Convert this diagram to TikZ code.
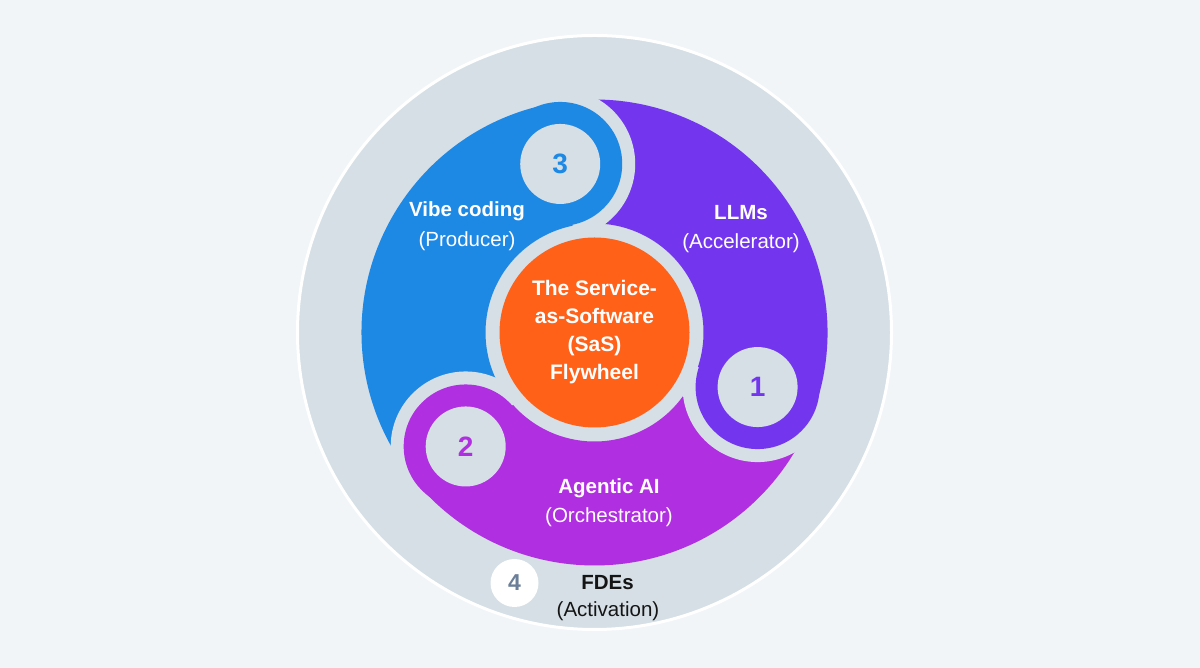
\documentclass[tikz,border=0pt]{standalone}
\usepackage{fontspec}
\setmainfont{Liberation Sans}
\usetikzlibrary{calc}
\definecolor{pagebg}{HTML}{F1F5F8}
\definecolor{wheelgray}{HTML}{D5DFE5}
\definecolor{vibe}{HTML}{1E88E5}
\definecolor{llm}{HTML}{7336EE}
\definecolor{agent}{HTML}{B02FE0}
\definecolor{hub}{HTML}{FF6119}
\definecolor{fde}{HTML}{6B7F99}
\definecolor{ink}{HTML}{151515}

\begin{document}
\begin{tikzpicture}[
  x=1pt,y=1pt,
  numdisk/.style={circle,fill=wheelgray,minimum size=80pt,inner sep=0pt,font=\fontsize{28}{28}\selectfont\bfseries},
  head/.style={anchor=base,text=white,font=\fontsize{20.5}{24}\selectfont\bfseries},
  sub/.style={anchor=base,text=white,font=\fontsize{20.5}{24}\selectfont},
  cut/.style={fill=wheelgray},
]
\fill[pagebg] (0,0) rectangle (1200,668);
\coordinate (C) at (594.5,335.5);
\node[circle,fill=wheelgray,draw=white,line width=3pt,minimum size=594pt,inner sep=0pt] (rim) at (C) {};

% the three bands, each from its own bulb to the next one
\fill[vibe] ($(C)+(101.5:233)$) arc[start angle=101.5,end angle=221.5,radius=233]
  -- ($(C)+(221.5:109)$) arc[start angle=221.5,end angle=101.5,radius=109] -- cycle;
\fill[agent] ($(C)+(221.5:233)$) arc[start angle=221.5,end angle=341.5,radius=233]
  -- ($(C)+(341.5:109)$) arc[start angle=341.5,end angle=221.5,radius=109] -- cycle;
\fill[llm] ($(C)+(341.5:233)$) arc[start angle=341.5,end angle=461.5,radius=233]
  -- ($(C)+(461.5:109)$) arc[start angle=461.5,end angle=341.5,radius=109] -- cycle;

\coordinate (b3) at ($(C)+(101.5:172)$);
\coordinate (b2) at ($(C)+(221.5:172)$);
\coordinate (b1) at ($(C)+(341.5:172)$);

% bulbs: gray gap cut into the tail before, then the round head
\fill[cut] (b3) -- ++(101.5:75) arc[start angle=101.5,end angle=-78.5,radius=75] -- cycle;
\fill[vibe] (b3) circle[radius=62];
\node[numdisk,text=vibe] (n3) at (b3) {3};

\fill[cut] (b2) -- ++(221.5:75) arc[start angle=221.5,end angle=41.5,radius=75] -- cycle;
\fill[agent] (b2) circle[radius=62];
\node[numdisk,text=agent] (n2) at (b2) {2};

\fill[cut] (b1) -- ++(341.5:75) arc[start angle=341.5,end angle=161.5,radius=75] -- cycle;
\fill[llm] (b1) circle[radius=62];
\node[numdisk,text=llm] (n1) at (b1) {1};

\node[circle,fill=hub,minimum size=190pt,inner sep=0pt,text=white,align=center,
  font=\fontsize{21}{28}\selectfont\bfseries] (hub) at (C) {The Service-\\as-Software\\(SaS)\\Flywheel};

\node[head] (vibet) at (467,451) {Vibe coding};
\node[sub] (vibes) at (467,421) {(Producer)};
\node[head] (llmt) at (741,448) {LLMs};
\node[sub] (llms) at (741,419) {(Accelerator)};
\node[head] (agentt) at (609,174) {Agentic AI};
\node[sub] (agents) at (609,145) {(Orchestrator)};

\node[circle,fill=white,minimum size=48pt,inner sep=0pt,text=fde,
  font=\fontsize{23}{23}\selectfont\bfseries] (n4) at (514.5,85) {4};
\node[head,text=ink] (fdet) at (607.5,78) {FDEs};
\node[sub,text=ink] (fdes) at (608,51) {(Activation)};
\end{tikzpicture}
\end{document}
